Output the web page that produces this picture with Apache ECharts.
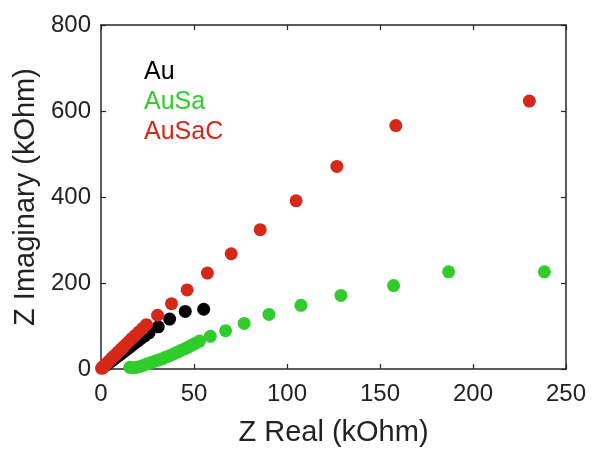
<!DOCTYPE html>
<html>
<head>
<meta charset="utf-8">
<script src="https://cdn.jsdelivr.net/npm/echarts@6/dist/echarts.min.js"></script>
<style>
  html, body { margin: 0; padding: 0; background: #fff; }
  #chart { width: 594px; height: 452px; }
</style>
</head>
<body>
<div id="chart"></div>
<script>
// Nyquist data, impedance in kOhm
const auX = [1, 2, 3, 4, 5, 6, 7, 8, 9, 10, 11, 12, 13, 14, 15.5, 17, 18.5, 20, 21.5, 23.5, 25.8, 30.8, 36.9, 45.3, 55.2];
const auY = [3, 7, 10, 13, 17, 20, 23, 27, 30, 33, 36, 40, 43, 46, 51, 56, 61, 66, 71, 77, 84, 98, 116, 134, 139];

const auSaX = [15.5, 17, 19, 21, 23, 25, 27, 29, 31, 33, 35, 37, 39, 41, 43, 45, 47, 49, 51, 53, 58.8, 67, 77, 90.3, 107.5, 129, 157.3, 186.9, 238.4];
const auSaY = [4, 3, 4, 6, 9, 12, 15, 18, 21, 24, 28, 31, 35, 39, 43, 47, 51, 56, 60, 65, 76, 89, 106, 127, 148, 171, 194, 226, 226];

const auSaCX = [0.3, 0.7, 1.2, 1.8, 2.5, 3.3, 4.2, 5.1, 6, 7, 8, 9, 10, 11, 12.2, 13.5, 15, 16.6, 18.4, 20.3, 22.3, 24.4, 30.4, 37.9, 46.3, 57.2, 70, 85.6, 104.9, 126.8, 158.5, 230.3];
const auSaCY = [1.5, 3, 5, 7.5, 10.5, 14, 18, 22, 26, 30, 34, 38.5, 43, 47, 52, 57.5, 64, 71, 78, 86, 94, 103, 125, 152, 184, 223, 268, 324, 391, 471, 566, 623];

const seriesNames = ['Au', 'AuSa', 'AuSaC'];
const seriesColors = ['#000000', '#30cc2c', '#d6281a'];

const xTicks = { min: 0, max: 250, interval: 50 };
const yTicks = { min: 0, max: 800, interval: 200 };

const pairs = (xs, ys) => xs.map((x, i) => [x, ys[i]]);
const dataSets = [pairs(auX, auY), pairs(auSaX, auSaY), pairs(auSaCX, auSaCY)];

const font = 'Liberation Sans, Arial, Helvetica, sans-serif';
const frameColor = '#262626';

const chart = echarts.init(document.getElementById('chart'), null, { renderer: 'canvas' });

const axisCommon = {
  type: 'value',
  axisLine: { show: true, onZero: false, lineStyle: { color: frameColor, width: 1.5 } },
  axisTick: { show: true, inside: true, length: 5, lineStyle: { color: frameColor, width: 1.2 } },
  splitLine: { show: false }
};

chart.setOption({
  animation: false,
  backgroundColor: '#ffffff',
  grid: { left: 101, right: 28, top: 25, bottom: 78 },
  legend: {
    orient: 'vertical',
    left: 134,
    top: 55,
    icon: 'circle',
    itemWidth: 0,
    itemHeight: 0,
    itemGap: 5,
    selectedMode: false,
    textStyle: { fontFamily: font, fontSize: 25 },
    data: seriesNames.map((n, i) => ({ name: n, textStyle: { color: seriesColors[i] } }))
  },
  xAxis: [
    Object.assign({}, axisCommon, xTicks, {
      position: 'bottom',
      name: 'Z Real (kOhm)',
      nameLocation: 'middle',
      nameGap: 49,
      nameTextStyle: { fontFamily: font, fontSize: 29, color: '#222' },
      axisLabel: { margin: 13, fontFamily: font, fontSize: 24, color: '#222' }
    }),
    Object.assign({}, axisCommon, xTicks, { position: 'top', axisLabel: { show: false } })
  ],
  yAxis: [
    Object.assign({}, axisCommon, yTicks, {
      position: 'left',
      name: 'Z Imaginary (kOhm)',
      nameLocation: 'middle',
      nameGap: 58,
      nameTextStyle: { fontFamily: font, fontSize: 29, color: '#222' },
      axisLabel: { margin: 10, fontFamily: font, fontSize: 24, color: '#222' }
    }),
    Object.assign({}, axisCommon, yTicks, { position: 'right', axisLabel: { show: false } })
  ],
  series: seriesNames.map((n, i) => ({
    name: n,
    type: 'scatter',
    xAxisIndex: 0,
    yAxisIndex: 0,
    symbol: 'circle',
    symbolSize: 13,
    itemStyle: { color: seriesColors[i], opacity: 1 },
    data: dataSets[i],
    z: 2 + i
  }))
});
</script>
</body>
</html>
